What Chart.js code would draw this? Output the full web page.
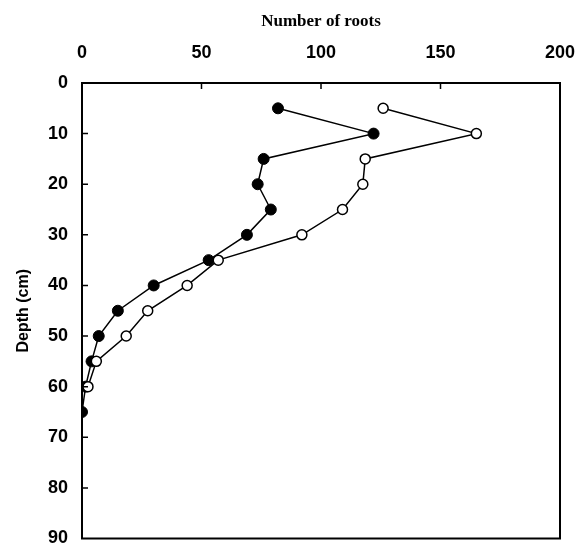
<!DOCTYPE html>
<html>
<head>
<meta charset="utf-8">
<script src="https://cdn.jsdelivr.net/npm/chart.js@4"></script>
<style>
  html, body { margin: 0; padding: 0; background: #fff; }
  #wrap { width: 587px; height: 545px; position: relative; }
</style>
</head>
<body>
<div id="wrap"><canvas id="myChart"></canvas></div>
<script>
// depth in cm (y axis) and number of roots (x axis)
const depthFilled = [5, 10, 15, 20, 25, 30, 35, 40, 45, 50, 55, 60, 65];
const rootsFilled = [82, 122, 76, 73.5, 79, 69, 53, 30, 15, 7, 4, 1.5, 0];
const depthOpen = [5, 10, 15, 20, 25, 30, 35, 40, 45, 50, 55, 60];
const rootsOpen = [126, 165, 118.5, 117.5, 109, 92, 57, 44, 27.5, 18.5, 6, 2.5];
const xTicks = [0, 50, 100, 150, 200];
const yTicks = [0, 10, 20, 30, 40, 50, 60, 70, 80, 90];

const toPoints = (xs, ys) => xs.map((x, i) => ({ x: x, y: ys[i] }));

// frame round the plot plus short inward tick marks
const framePlugin = {
  id: "frame",
  afterDatasetsDraw(chart) {
    const { ctx, chartArea: a, scales } = chart;
    ctx.save();
    ctx.strokeStyle = "#000";
    ctx.lineWidth = 2;
    ctx.strokeRect(a.left, a.top, a.right - a.left, a.bottom - a.top);
    ctx.lineWidth = 1.5;
    ctx.beginPath();
    xTicks.slice(1, -1).forEach(v => {
      const px = scales.x.getPixelForValue(v);
      ctx.moveTo(px, a.top);
      ctx.lineTo(px, a.top + 6);
    });
    yTicks.slice(1, -1).forEach(v => {
      const py = scales.y.getPixelForValue(v);
      ctx.moveTo(a.left, py);
      ctx.lineTo(a.left + 6, py);
    });
    ctx.stroke();
    ctx.restore();
  }
};

const tickFont = { family: "'Liberation Sans', Arial, sans-serif", size: 18, weight: "bold" };

const ctx = document.getElementById("myChart").getContext("2d");
const chart = new Chart(ctx, {
  type: "scatter",
  data: {
    datasets: [
      {
        label: "open",
        data: toPoints(rootsOpen, depthOpen),
        showLine: true,
        borderColor: "#000",
        borderWidth: 1.5,
        pointRadius: 5,
        pointBorderWidth: 1.5,
        pointBackgroundColor: "#fff",
        pointBorderColor: "#000"
      },
      {
        label: "filled",
        data: toPoints(rootsFilled, depthFilled),
        showLine: true,
        borderColor: "#000",
        borderWidth: 1.5,
        pointRadius: 5.5,
        pointBorderWidth: 1,
        pointBackgroundColor: "#000",
        pointBorderColor: "#000"
      }
    ]
  },
  options: {
    animation: false,
    responsive: true,
    maintainAspectRatio: false,
    layout: { padding: { top: 0, right: 27, bottom: 1, left: 0 } },
    plugins: {
      legend: { display: false },
      tooltip: { enabled: false }
    },
    scales: {
      x: {
        type: "linear",
        position: "top",
        min: 0,
        max: 200,
        afterFit(scale) {
          scale.height = 83;
          scale.paddingLeft = 0;
          scale.paddingRight = 0;
        },
        afterBuildTicks(scale) { scale.ticks = xTicks.map(v => ({ value: v })); },
        grid: { display: false, drawTicks: false },
        border: { display: false },
        ticks: { color: "#000", font: tickFont, padding: 19, maxRotation: 0 },
        title: {
          display: true,
          text: "Number of roots",
          color: "#000",
          font: { family: "'Liberation Serif', 'Times New Roman', serif", size: 17, weight: "bold" },
          padding: { top: 11, bottom: 0 }
        }
      },
      y: {
        type: "linear",
        reverse: true,
        min: 0,
        max: 90,
        afterFit(scale) {
          scale.width = 82;
          scale.paddingTop = 0;
          scale.paddingBottom = 0;
        },
        afterBuildTicks(scale) { scale.ticks = yTicks.map(v => ({ value: v })); },
        grid: { display: false, drawTicks: false },
        border: { display: false },
        ticks: { color: "#000", font: tickFont, padding: 14 },
        title: {
          display: true,
          text: "Depth (cm)",
          color: "#000",
          font: { family: "'Liberation Sans', Arial, sans-serif", size: 16, weight: "bold" },
          padding: { top: 14, bottom: 0 }
        }
      }
    }
  },
  plugins: [framePlugin]
});
</script>
</body>
</html>
